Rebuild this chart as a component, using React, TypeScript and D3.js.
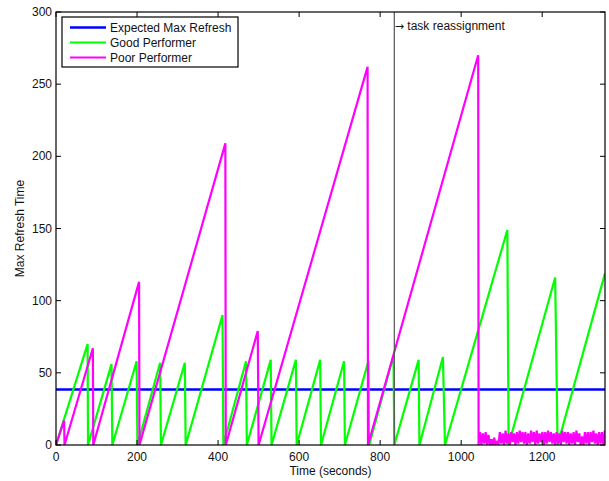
import * as d3 from 'd3'

const W = 609
const H = 481
const margin = { left: 56, right: 4, top: 12, bottom: 36 }

// axis setup
const xDomain = [0, 1355]
const yDomain = [0, 300]
const xTicks = [0, 200, 400, 600, 800, 1000, 1200]
const yTicks = [0, 50, 100, 150, 200, 250, 300]

const expectedMax = 38.5
const reassignTime = 835

// Good performer sawtooth (time, refresh)
const goodTimes = [0, 78, 79, 137, 139, 199, 201, 257, 259, 318, 320, 411, 413, 469, 471, 530, 532, 592, 594, 652, 654, 711, 713, 771, 773, 833, 835, 895, 897, 955, 960, 1114, 1117, 1232, 1238, 1355]
const goodValues = [0, 70, 0, 56, 0, 58, 0, 57, 0, 57, 0, 90, 0, 58, 0, 59, 0, 59, 0, 59, 0, 58, 0, 58, 0, 62, 0, 59, 0, 61, 0, 149, 0, 116, 0, 119]

// Poor performer sawtooth, then jitter after reassignment
const poorTimes = [0, 20, 21, 91, 92, 205, 206, 418, 419, 498, 500, 769, 770, 1042]
const poorValues = [0, 17, 0, 67, 0, 113, 0, 209, 0, 79, 0, 262, 0, 270]
const poorNoiseStart = 1043
const poorNoiseStep = 3.5
const poorNoise = [
  0, 9, 0, 8, 1, 9, 0, 7, 0, 4, 0, 5, 0, 2, 0, 9, 1, 8, 0, 10,
  1, 8, 0, 9, 2, 8, 0, 9, 1, 10, 2, 9, 1, 9, 0, 8, 1, 10, 2, 9,
  0, 10, 1, 8, 2, 9, 0, 9, 1, 10, 2, 9, 1, 8, 0, 9, 1, 8, 0, 10,
  2, 9, 1, 9, 0, 8, 1, 9, 0, 10, 2, 8, 0, 6, 0, 9, 1, 9, 0, 9,
  2, 10, 1, 8, 0, 9, 1, 9, 0, 10,
]

const legendLabels = ['Expected Max Refresh', 'Good Performer', 'Poor Performer']
const legendColors = ['#0000ff', '#00ff00', '#ff00ff']

const font = '"Liberation Sans", Arial, Helvetica, sans-serif'

export default function App() {
  const x = d3.scaleLinear().domain(xDomain).range([margin.left, W - margin.right])
  const y = d3.scaleLinear().domain(yDomain).range([H - margin.bottom, margin.top])

  const line = d3.line<[number, number]>()
    .x((d) => x(d[0]))
    .y((d) => y(d[1]))

  const good: [number, number][] = goodTimes.map((t, i) => [t, goodValues[i]])
  const poor: [number, number][] = poorTimes.map((t, i) => [t, poorValues[i]])
  poorNoise.forEach((v, i) => poor.push([poorNoiseStart + i * poorNoiseStep, v]))
  const expected: [number, number][] = [[xDomain[0], expectedMax], [xDomain[1], expectedMax]]

  const x0 = x.range()[0], x1 = x.range()[1]
  const y0 = y.range()[0], y1 = y.range()[1]
  const tk = 5

  return (
    <svg width={W} height={H} style={{ position: 'absolute', left: 0, top: 0, background: '#fff' }} fontFamily={font}>
      <defs>
        <clipPath id="plot">
          <rect x={x0} y={y1} width={x1 - x0} height={y0 - y1} />
        </clipPath>
      </defs>
      <rect x={0} y={0} width={W} height={H} fill="#fff" />

      <g clipPath="url(#plot)" fill="none" strokeLinejoin="miter">
        <path d={line(expected) ?? ''} stroke="#0000ff" strokeWidth={2.6} />
        <path d={line(good) ?? ''} stroke="#00ff00" strokeWidth={2.2} />
        <path d={line(poor) ?? ''} stroke="#ff00ff" strokeWidth={2.2} />
      </g>

      {/* task reassignment marker */}
      <line x1={x(reassignTime)} x2={x(reassignTime)} y1={y0} y2={y1} stroke="#555" strokeWidth={1.2} />
      <text x={x(reassignTime) + 0.5} y={30} fontSize={12} fill="#111">
        <tspan fontFamily='"DejaVu Sans", sans-serif' fontSize={11}>→</tspan> task reassignment
      </text>

      {/* axes box */}
      <rect x={x0} y={y1} width={x1 - x0} height={y0 - y1} fill="none" stroke="#000" strokeWidth={1.2} />
      {xTicks.map((t) => (
        <g key={'x' + t}>
          <line x1={x(t)} x2={x(t)} y1={y0} y2={y0 - tk} stroke="#000" />
          <line x1={x(t)} x2={x(t)} y1={y1} y2={y1 + tk} stroke="#000" />
          <text x={x(t)} y={y0 + 16} fontSize={12} textAnchor="middle" fill="#111">{t}</text>
        </g>
      ))}
      {yTicks.map((t) => (
        <g key={'y' + t}>
          <line x1={x0} x2={x0 + tk} y1={y(t)} y2={y(t)} stroke="#000" />
          <line x1={x1} x2={x1 - tk} y1={y(t)} y2={y(t)} stroke="#000" />
          <text x={x0 - 4} y={y(t) + 4} fontSize={12} textAnchor="end" fill="#111">{t}</text>
        </g>
      ))}

      <text x={(x0 + x1) / 2} y={475} fontSize={12} textAnchor="middle" fill="#111">Time (seconds)</text>
      <text transform={`translate(24,${(y0 + y1) / 2}) rotate(-90)`} fontSize={12} textAnchor="middle" fill="#111">Max Refresh Time</text>

      {/* legend */}
      <g>
        <rect x={62} y={17} width={176} height={50} fill="#fff" stroke="#000" strokeWidth={1.2} />
        {legendLabels.map((label, i) => (
          <g key={label} transform={`translate(0,${27.5 + i * 15})`}>
            <line x1={70} x2={106} y1={0} y2={0} stroke={legendColors[i]} strokeWidth={i === 0 ? 2.6 : 2} />
            <text x={110} y={4.5} fontSize={12} fill="#111">{label}</text>
          </g>
        ))}
      </g>
    </svg>
  )
}
